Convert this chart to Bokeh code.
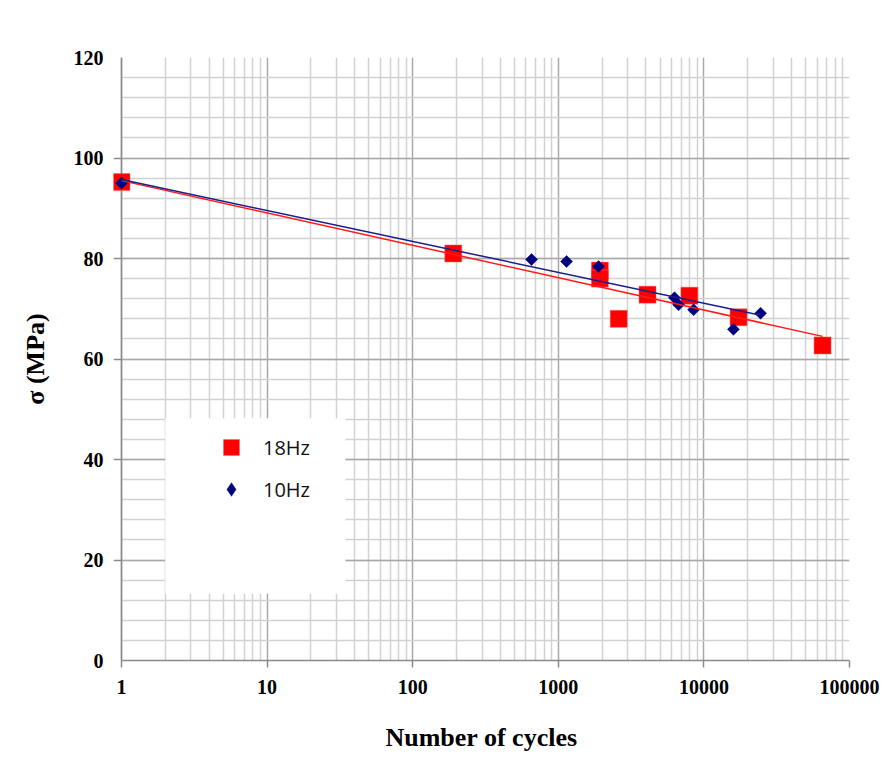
import numpy as np
from bokeh.plotting import figure
from bokeh.models import (Range1d, FixedTicker, Legend, LegendItem, BoxAnnotation,
                          ColumnDataSource, Grid)
from bokeh.embed import file_html
from bokeh.resources import INLINE

# ---- data ----
cycles_18 = [1, 190, 1930, 1930, 2600, 4100, 7950, 17300, 65300]
stress_18 = [95.2, 81.0, 77.6, 76.0, 68.0, 72.8, 72.6, 68.3, 62.7]
cycles_10 = [1, 655, 1140, 1890, 6280, 6700, 8490, 15960, 24500]
stress_10 = [95.0, 79.8, 79.4, 78.4, 72.2, 70.8, 69.8, 65.9, 69.1]
# logarithmic trendlines, end points
trend_18_x = [1, 65300]
trend_18_y = [95.5, 64.5]
trend_10_x = [1, 24500]
trend_10_y = [95.7, 68.7]
series_labels = ["18Hz", "10Hz"]
x_ticks = [1, 10, 100, 1000, 10000, 100000]
x_tick_labels = ["1", "10", "100", "1000", "10000", "100000"]
y_ticks = [0, 20, 40, 60, 80, 100, 120]
x_lo, x_hi = 1, 100000
y_lo, y_hi = 0, 120

W, H = 880, 768
AX, FT, FR, FB = 121, 57, 849, 660  # axis/frame edges in page pixels
PAD = 8                              # frame extends a little left of x=1 so markers there are not clipped
FL = AX - PAD
ls = -PAD * np.log10(x_hi) / ((FR - FL) - PAD)
x_start = 10 ** ls
p = figure(width=W, height=H, x_axis_type="log",
           x_range=Range1d(x_start, x_hi), y_range=Range1d(y_lo, y_hi),
           output_backend="svg", toolbar_location=None,
           min_border_left=FL, min_border_top=FT,
           min_border_right=W - FR, min_border_bottom=H - FB)
p.background_fill_color = "white"
p.border_fill_color = "white"
p.outline_line_color = None

minor_x = [m * d for d in [1, 10, 100, 1000, 10000] for m in range(2, 10)]
xt = FixedTicker(ticks=x_ticks, minor_ticks=minor_x)
yt = FixedTicker(ticks=y_ticks, minor_ticks=list(range(0, 121, 4)))
p.xaxis.ticker = xt
p.yaxis.ticker = yt
p.xgrid.ticker = xt
p.ygrid.ticker = yt
p.xaxis.major_label_overrides = {v: s for v, s in zip(x_ticks, x_tick_labels)}
p.ygrid.cross_bounds = (x_lo, x_hi)
p.xaxis.bounds = (x_lo, x_hi)

for g in (p.xgrid, p.ygrid):
    g.grid_line_color = "#a8a8a8"
    g.grid_line_width = 1.5
    g.minor_grid_line_color = "#d2d2d2"
    g.minor_grid_line_width = 1.5

AXIS_GRAY = "#8a8a8a"
for ax in (p.xaxis, p.yaxis):
    ax.axis_line_color = AXIS_GRAY
    ax.axis_line_width = 1.5
    ax.major_tick_line_color = AXIS_GRAY
    ax.major_tick_line_width = 1.5
    ax.major_tick_out = 7
    ax.major_tick_in = 0
    ax.minor_tick_out = 0
    ax.minor_tick_in = 0
    ax.major_label_text_font = "Liberation Serif"
    ax.major_label_text_font_style = "bold"
    ax.major_label_text_font_size = "20px"
    ax.major_label_text_color = "black"
    ax.axis_label_text_font = "Liberation Serif"
    ax.axis_label_text_font_style = "bold"
    ax.axis_label_text_font_size = "26px"
    ax.axis_label_text_color = "black"

p.xaxis.axis_label = "Number of cycles"
p.yaxis.axis_label = "σ (MPa)"
p.xaxis.major_label_standoff = 12
p.xaxis.axis_label_standoff = 26

# the y axis sits at the frame edge (8px left of x=1): labels only,
# its line and ticks are drawn at x=1 below
p.yaxis.axis_line_color = None
p.yaxis.major_tick_line_color = None
p.yaxis.major_tick_out = 0
p.yaxis.major_label_standoff = PAD + 2
p.yaxis.axis_label_standoff = 21

y_axis_line = Grid(dimension=0, ticker=FixedTicker(ticks=[x_lo]),
                   grid_line_color=AXIS_GRAY, grid_line_width=1.5)
y_axis_ticks = Grid(dimension=1, ticker=FixedTicker(ticks=y_ticks),
                    cross_bounds=(x_start, x_lo),
                    grid_line_color=AXIS_GRAY, grid_line_width=1.5)
p.add_layout(y_axis_line)
p.add_layout(y_axis_ticks)

r18 = p.scatter(cycles_18, stress_18, marker="square", size=17,
                fill_color="#ff0000", line_color="#ff6060", line_width=0.5)
r10 = p.scatter(cycles_10, stress_10, marker="square", size=8.5, angle=np.pi / 4,
                fill_color="#000080", line_color="#000080", line_width=0.5)
p.line(trend_18_x, trend_18_y, line_color="#ff1a1a", line_width=1.5)
p.line(trend_10_x, trend_10_y, line_color="#1c1c8a", line_width=1.5)

# legend key for the diamond series (legend keys are drawn unrotated)
nokey = ColumnDataSource(data=dict(x=[np.nan], y=[np.nan]))
r10_key = p.scatter("x", "y", source=nokey, marker="diamond",
                    fill_color="#000080", line_color="#000080", line_width=0.5)

# white legend panel
p.add_layout(BoxAnnotation(left=2.0, right=34.5, bottom=13.3, top=48.2,
                           fill_color="white", fill_alpha=1.0, line_color=None))

# chart-area border of the original (left and top edges visible)
p.add_layout(BoxAnnotation(left=4, right=W + 20, top=7, bottom=H + 20,
                           left_units="canvas", right_units="canvas",
                           top_units="canvas", bottom_units="canvas",
                           fill_alpha=0, line_color="#909090", line_width=1.5))

common = dict(margin=0, padding=0, label_text_font="Open Sans",
              label_text_font_size="20px", label_text_color="#111111",
              background_fill_alpha=0, border_line_color=None)
# 18Hz key centred at page (231, 447)
leg_a = Legend(items=[LegendItem(label=series_labels[0], renderers=[r18])],
               location=(231 - 20 - FL, FB - (447 + 20)),
               glyph_width=40, glyph_height=40, label_height=40,
               label_standoff=263 - (231 + 20), **common)
# 10Hz key centred at page (231, 489)
leg_b = Legend(items=[LegendItem(label=series_labels[1], renderers=[r10_key])],
               location=(231 - 17 - FL, FB - (489 + 17)),
               glyph_width=34, glyph_height=34, label_height=34,
               label_standoff=263 - (231 + 17), **common)
p.add_layout(leg_a, "center")
p.add_layout(leg_b, "center")

open("out.html", "w").write(file_html(p, INLINE))
